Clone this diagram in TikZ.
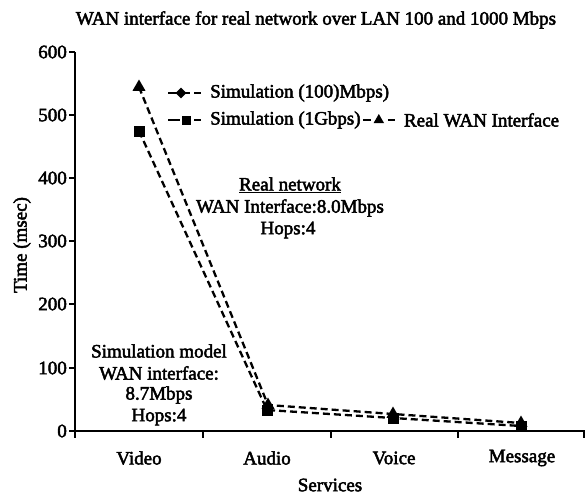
\documentclass[tikz,border=0pt]{standalone}
\usepackage{fontspec}
\setmainfont[FakeBold=2.5]{Liberation Serif}
\usetikzlibrary{shapes.geometric}
\begin{document}
\begin{tikzpicture}[x=1pt,y=-1pt,
  txt/.style={font=\fontsize{19}{22}\selectfont, inner sep=0pt},
  axisline/.style={line width=2.4pt},
  series/.style={line width=2.3pt, dash pattern=on 7pt off 4pt},
  tri/.style={regular polygon, regular polygon sides=3, fill=black, minimum size=15pt, inner sep=0pt},
  sq/.style={rectangle, fill=black, minimum size=11pt, inner sep=0pt},
  dia/.style={diamond, fill=black, minimum size=11pt, inner sep=0pt},
  smalltri/.style={tri, minimum size=12pt},
  smallsq/.style={sq, minimum size=9pt},
  legline/.style={line width=2.2pt}]
\useasboundingbox (0,0) rectangle (585,496);

% title
\node[txt] (title) at (316,20) {WAN interface for real network over LAN 100 and 1000 Mbps};

% axes
\draw[axisline] (75,52) -- (75,438);
\draw[axisline] (69,431) -- (585,431);
\foreach \v/\yy in {0/431,100/368,200/304,300/241,400/178,500/115,600/52}{
  \draw[axisline] (69,\yy) -- (75,\yy);
  \node[txt, anchor=east] (tick\v) at (67,\yy) {\v};
}
\foreach \xx in {203,331,458,584}{
  \draw[axisline] (\xx,431) -- (\xx,438);
}

% axis titles
\node[txt, rotate=90] (ylab) at (22,245) {Time (msec)};
\node[txt] (xlab) at (330,485) {Services};
\node[txt] (cVideo) at (139,458) {Video};
\node[txt] (cAudio) at (267,458) {Audio};
\node[txt] (cVoice) at (394,458) {Voice};
\node[txt] (cMessage) at (522,458) {Message};

% data points
\coordinate (s1) at (139,131);
\coordinate (s2) at (267,410);
\coordinate (s3) at (393,418);
\coordinate (s4) at (521,426);
\coordinate (t1) at (139,87);
\coordinate (t2) at (268,405);
\coordinate (t3) at (393,414);
\coordinate (t4) at (521,423);

% series lines
\draw[series] (s1) -- (s2) -- (s3) -- (s4);
\draw[series] (t1) -- (t2) -- (t3) -- (t4);

% markers
\foreach \p in {s1,s2,s3,s4}{ \node[sq] (m\p) at (\p) {}; }
\foreach \p in {t1,t2,t3,t4}{ \node[tri] (m\p) at (\p) {}; }

% legend
\coordinate (la1) at (168,93);
\coordinate (la2) at (190,93);
\coordinate (la3) at (194,93);
\coordinate (la4) at (201,93);
\draw[legline] (la1) -- (la2);
\node[dia] (ldia) at (181,93) {};
\draw[legline] (la3) -- (la4);
\node[txt, anchor=west] (leg1) at (210,93) {Simulation (100)Mbps)};

\coordinate (lb1) at (168,120);
\coordinate (lb2) at (180,120);
\coordinate (lb3) at (194,120);
\coordinate (lb4) at (201,120);
\draw[legline] (lb1) -- (lb2);
\node[smallsq] (lsq) at (186,120) {};
\draw[legline] (lb3) -- (lb4);
\node[txt, anchor=west] (leg2) at (210,120) {Simulation (1Gbps)};
\coordinate (lc1) at ([xshift=2pt]leg2.east);
\coordinate (lc2) at ([xshift=10pt]leg2.east);
\draw[legline] (lc1 |- lb1) -- (lc2 |- lb1);
\node[smalltri] (ltri) at ([xshift=18pt]leg2.east |- lb1) {};
\coordinate (lc3) at ([xshift=27pt]leg2.east);
\coordinate (lc4) at ([xshift=34pt]leg2.east);
\draw[legline] (lc3 |- lb1) -- (lc4 |- lb1);
\node[txt, anchor=west] (leg3) at ([xshift=43pt]leg2.east |- lb1) {Real WAN Interface};

% annotations
\node[txt] (rn1) at (290,185) {\underline{Real network}};
\node[txt] (rn2) at (290,208) {WAN Interface:8.0Mbps};
\node[txt] (rn3) at (288,230) {Hops:4};

\node[txt] (sm1) at (159,351) {Simulation model};
\node[txt] (sm2) at (159,373) {WAN interface:};
\node[txt] (sm3) at (159,395) {8.7Mbps};
\node[txt] (sm4) at (159,417) {Hops:4};
\end{tikzpicture}
\end{document}
